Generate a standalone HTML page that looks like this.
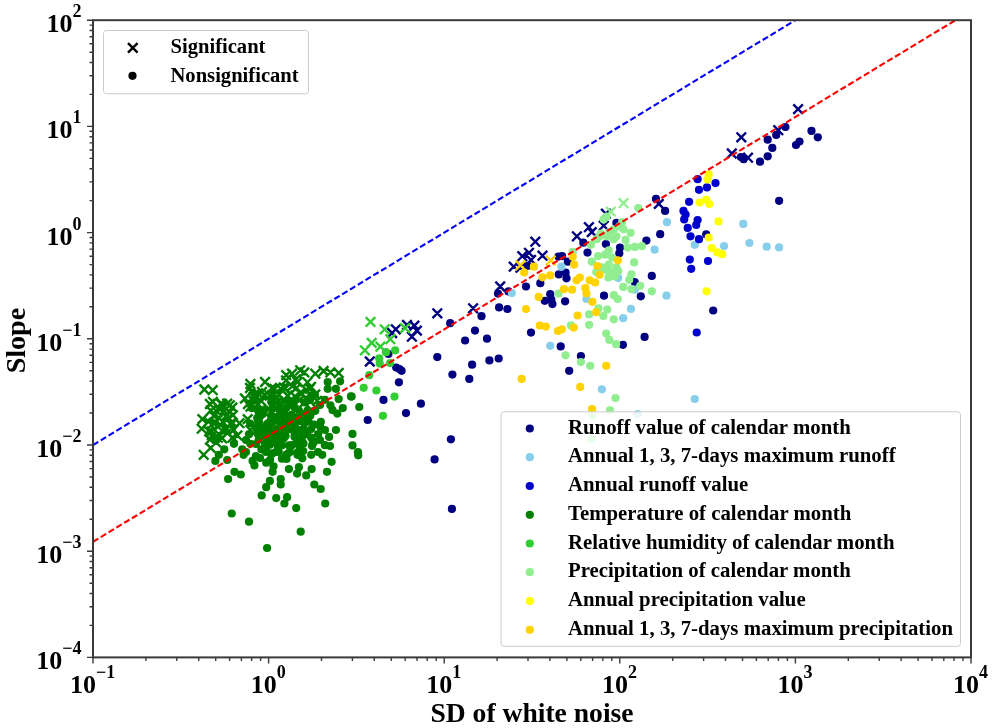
<!DOCTYPE html><html><head><meta charset="utf-8"><style>html,body{margin:0;padding:0;background:#fff;width:992px;height:728px;overflow:hidden}svg{display:block;filter:blur(0.35px)}text{font-family:"Liberation Serif",serif;font-weight:bold;fill:#000}</style></head><body><svg width="992" height="728" viewBox="0 0 992 728"><defs><clipPath id="c"><rect x="93.0" y="20.2" width="878.0" height="637.2"/></clipPath></defs><g clip-path="url(#c)"><path d="M793.3 104.3l9.6 9.6M793.3 113.9l9.6 -9.6M736.5 132.5l9.6 9.6M736.5 142.1l9.6 -9.6M727.0 148.7l9.6 9.6M727.0 158.3l9.6 -9.6M743.2 152.9l9.6 9.6M743.2 162.5l9.6 -9.6M773.5 125.4l9.6 9.6M773.5 135.0l9.6 -9.6M654.0 199.1l9.6 9.6M654.0 208.7l9.6 -9.6M572.1 231.5l9.6 9.6M572.1 241.1l9.6 -9.6M584.1 222.4l9.6 9.6M584.1 232.0l9.6 -9.6M587.0 227.3l9.6 9.6M587.0 236.9l9.6 -9.6M598.9 220.9l9.6 9.6M598.9 230.5l9.6 -9.6M601.1 208.9l9.6 9.6M601.1 218.5l9.6 -9.6M530.5 236.9l9.6 9.6M530.5 246.5l9.6 -9.6M524.2 248.0l9.6 9.6M524.2 257.6l9.6 -9.6M517.5 251.4l9.6 9.6M517.5 261.0l9.6 -9.6M537.7 250.9l9.6 9.6M537.7 260.5l9.6 -9.6M508.9 261.9l9.6 9.6M508.9 271.5l9.6 -9.6M526.2 255.2l9.6 9.6M526.2 264.8l9.6 -9.6M515.6 262.9l9.6 9.6M515.6 272.5l9.6 -9.6M432.5 308.5l9.6 9.6M432.5 318.1l9.6 -9.6M468.3 303.5l9.6 9.6M468.3 313.1l9.6 -9.6M391.0 324.5l9.6 9.6M391.0 334.1l9.6 -9.6M387.3 328.2l9.6 9.6M387.3 337.8l9.6 -9.6M409.6 320.8l9.6 9.6M409.6 330.4l9.6 -9.6M412.1 325.8l9.6 9.6M412.1 335.4l9.6 -9.6M407.1 331.9l9.6 9.6M407.1 341.5l9.6 -9.6M402.2 320.2l9.6 9.6M402.2 329.8l9.6 -9.6M365.0 356.7l9.6 9.6M365.0 366.3l9.6 -9.6M495.4 281.7l9.6 9.6M495.4 291.3l9.6 -9.6" stroke="#000080" stroke-width="2.4" fill="none"/><g fill="#000080"><circle cx="785.4" cy="127.0" r="4.1"/><circle cx="776.2" cy="134.9" r="4.1"/><circle cx="767.7" cy="139.7" r="4.1"/><circle cx="772.3" cy="147.9" r="4.1"/><circle cx="767.7" cy="156.3" r="4.1"/><circle cx="760.0" cy="161.7" r="4.1"/><circle cx="740.9" cy="157.0" r="4.1"/><circle cx="743.7" cy="159.2" r="4.1"/><circle cx="811.5" cy="130.9" r="4.1"/><circle cx="817.8" cy="137.3" r="4.1"/><circle cx="799.5" cy="141.5" r="4.1"/><circle cx="796.0" cy="145.0" r="4.1"/><circle cx="656.0" cy="198.9" r="4.1"/><circle cx="665.1" cy="210.9" r="4.1"/><circle cx="660.2" cy="234.2" r="4.1"/><circle cx="646.4" cy="240.6" r="4.1"/><circle cx="605.9" cy="244.1" r="4.1"/><circle cx="583.3" cy="242.7" r="4.1"/><circle cx="587.5" cy="252.6" r="4.1"/><circle cx="620.0" cy="247.6" r="4.1"/><circle cx="619.3" cy="253.3" r="4.1"/><circle cx="616.4" cy="222.9" r="4.1"/><circle cx="562.1" cy="256.1" r="4.1"/><circle cx="567.8" cy="261.7" r="4.1"/><circle cx="779.1" cy="200.8" r="4.1"/><circle cx="706.2" cy="234.4" r="4.1"/><circle cx="558.4" cy="256.6" r="4.1"/><circle cx="558.8" cy="274.4" r="4.1"/><circle cx="565.6" cy="272.5" r="4.1"/><circle cx="566.5" cy="278.3" r="4.1"/><circle cx="528.0" cy="265.8" r="4.1"/><circle cx="450.2" cy="323.2" r="4.1"/><circle cx="465.1" cy="340.5" r="4.1"/><circle cx="475.0" cy="330.6" r="4.1"/><circle cx="437.3" cy="357.1" r="4.1"/><circle cx="388.4" cy="354.0" r="4.1"/><circle cx="498.0" cy="293.6" r="4.1"/><circle cx="508.5" cy="291.4" r="4.1"/><circle cx="526.0" cy="286.5" r="4.1"/><circle cx="540.3" cy="283.2" r="4.1"/><circle cx="499.1" cy="307.4" r="4.1"/><circle cx="507.4" cy="309.0" r="4.1"/><circle cx="481.5" cy="316.2" r="4.1"/><circle cx="487.0" cy="338.7" r="4.1"/><circle cx="531.0" cy="332.6" r="4.1"/><circle cx="550.2" cy="294.2" r="4.1"/><circle cx="544.7" cy="300.8" r="4.1"/><circle cx="551.3" cy="299.7" r="4.1"/><circle cx="552.4" cy="304.1" r="4.1"/><circle cx="565.1" cy="301.3" r="4.1"/><circle cx="560.7" cy="346.4" r="4.1"/><circle cx="604.0" cy="295.7" r="4.1"/><circle cx="640.8" cy="296.3" r="4.1"/><circle cx="651.8" cy="275.9" r="4.1"/><circle cx="634.7" cy="282.0" r="4.1"/><circle cx="644.6" cy="336.9" r="4.1"/><circle cx="713.2" cy="310.5" r="4.1"/><circle cx="622.9" cy="344.8" r="4.1"/><circle cx="580.9" cy="356.0" r="4.1"/><circle cx="569.2" cy="370.8" r="4.1"/><circle cx="489.4" cy="360.4" r="4.1"/><circle cx="498.7" cy="358.5" r="4.1"/><circle cx="472.1" cy="364.7" r="4.1"/><circle cx="452.4" cy="374.6" r="4.1"/><circle cx="469.3" cy="378.9" r="4.1"/><circle cx="396.2" cy="367.5" r="4.1"/><circle cx="401.6" cy="370.8" r="4.1"/><circle cx="399.5" cy="369.1" r="4.1"/><circle cx="398.9" cy="382.3" r="4.1"/><circle cx="383.5" cy="399.9" r="4.1"/><circle cx="420.9" cy="403.7" r="4.1"/><circle cx="406.0" cy="413.1" r="4.1"/><circle cx="367.7" cy="420.0" r="4.1"/><circle cx="450.9" cy="439.3" r="4.1"/><circle cx="434.6" cy="459.4" r="4.1"/><circle cx="451.9" cy="508.9" r="4.1"/></g><g fill="#87ceeb"><circle cx="667.0" cy="222.2" r="4.1"/><circle cx="654.6" cy="249.7" r="4.1"/><circle cx="694.8" cy="244.8" r="4.1"/><circle cx="561.4" cy="266.7" r="4.1"/><circle cx="743.3" cy="223.9" r="4.1"/><circle cx="749.4" cy="243.0" r="4.1"/><circle cx="766.7" cy="246.7" r="4.1"/><circle cx="779.1" cy="247.4" r="4.1"/><circle cx="724.1" cy="246.1" r="4.1"/><circle cx="511.8" cy="293.1" r="4.1"/><circle cx="550.2" cy="345.8" r="4.1"/><circle cx="586.4" cy="299.0" r="4.1"/><circle cx="618.2" cy="278.1" r="4.1"/><circle cx="634.7" cy="289.7" r="4.1"/><circle cx="630.9" cy="308.9" r="4.1"/><circle cx="623.2" cy="318.2" r="4.1"/><circle cx="666.5" cy="295.7" r="4.1"/><circle cx="601.9" cy="389.3" r="4.1"/><circle cx="637.8" cy="414.0" r="4.1"/><circle cx="694.8" cy="399.0" r="4.1"/></g><g fill="#0000cd"><circle cx="715.5" cy="183.1" r="4.1"/><circle cx="707.0" cy="187.4" r="4.1"/><circle cx="697.6" cy="179.2" r="4.1"/><circle cx="699.0" cy="189.8" r="4.1"/><circle cx="689.1" cy="201.8" r="4.1"/><circle cx="683.5" cy="210.9" r="4.1"/><circle cx="685.6" cy="214.5" r="4.1"/><circle cx="684.2" cy="219.4" r="4.1"/><circle cx="697.6" cy="220.1" r="4.1"/><circle cx="696.2" cy="225.0" r="4.1"/><circle cx="687.7" cy="227.9" r="4.1"/><circle cx="690.5" cy="236.3" r="4.1"/><circle cx="699.0" cy="239.2" r="4.1"/><circle cx="689.8" cy="259.6" r="4.1"/><circle cx="691.2" cy="268.8" r="4.1"/><circle cx="708.0" cy="261.0" r="4.1"/><circle cx="696.7" cy="332.5" r="4.1"/></g><path d="M281.3 375.6l9.6 9.6M281.3 385.2l9.6 -9.6M291.0 374.7l9.6 9.6M291.0 384.3l9.6 -9.6M302.6 377.5l9.6 9.6M302.6 387.1l9.6 -9.6M269.7 384.2l9.6 9.6M269.7 393.8l9.6 -9.6M280.4 383.7l9.6 9.6M280.4 393.3l9.6 -9.6M287.5 381.3l9.6 9.6M287.5 390.9l9.6 -9.6M291.6 383.1l9.6 9.6M291.6 392.7l9.6 -9.6M301.5 385.0l9.6 9.6M301.5 394.6l9.6 -9.6M306.2 382.2l9.6 9.6M306.2 391.8l9.6 -9.6M248.7 392.2l9.6 9.6M248.7 401.8l9.6 -9.6M253.3 388.5l9.6 9.6M253.3 398.1l9.6 -9.6M259.6 390.2l9.6 9.6M259.6 399.8l9.6 -9.6M269.0 390.0l9.6 9.6M269.0 399.6l9.6 -9.6M274.1 389.9l9.6 9.6M274.1 399.5l9.6 -9.6M282.7 390.9l9.6 9.6M282.7 400.5l9.6 -9.6M290.2 391.6l9.6 9.6M290.2 401.2l9.6 -9.6M296.9 388.7l9.6 9.6M296.9 398.3l9.6 -9.6M304.6 389.4l9.6 9.6M304.6 399.0l9.6 -9.6M310.5 389.7l9.6 9.6M310.5 399.3l9.6 -9.6M248.9 396.4l9.6 9.6M248.9 406.0l9.6 -9.6M256.2 396.0l9.6 9.6M256.2 405.6l9.6 -9.6M273.4 396.7l9.6 9.6M273.4 406.3l9.6 -9.6M280.2 397.0l9.6 9.6M280.2 406.6l9.6 -9.6M294.5 395.6l9.6 9.6M294.5 405.2l9.6 -9.6M305.6 396.7l9.6 9.6M305.6 406.3l9.6 -9.6M312.3 396.0l9.6 9.6M312.3 405.6l9.6 -9.6M208.1 397.0l9.6 9.6M208.1 406.6l9.6 -9.6M216.0 398.8l9.6 9.6M216.0 408.4l9.6 -9.6M222.4 398.9l9.6 9.6M222.4 408.5l9.6 -9.6M206.0 405.7l9.6 9.6M206.0 415.3l9.6 -9.6M214.0 403.2l9.6 9.6M214.0 412.8l9.6 -9.6M219.4 406.0l9.6 9.6M219.4 415.6l9.6 -9.6M227.6 402.7l9.6 9.6M227.6 412.3l9.6 -9.6M209.2 411.2l9.6 9.6M209.2 420.8l9.6 -9.6M214.0 413.1l9.6 9.6M214.0 422.7l9.6 -9.6M223.9 413.1l9.6 9.6M223.9 422.7l9.6 -9.6M228.1 410.3l9.6 9.6M228.1 419.9l9.6 -9.6M203.6 416.8l9.6 9.6M203.6 426.4l9.6 -9.6M210.4 417.0l9.6 9.6M210.4 426.6l9.6 -9.6M218.4 417.4l9.6 9.6M218.4 427.0l9.6 -9.6M227.2 417.4l9.6 9.6M227.2 427.0l9.6 -9.6M207.0 426.6l9.6 9.6M207.0 436.2l9.6 -9.6M217.2 425.9l9.6 9.6M217.2 435.5l9.6 -9.6M221.8 424.2l9.6 9.6M221.8 433.8l9.6 -9.6M228.9 425.0l9.6 9.6M228.9 434.6l9.6 -9.6M207.1 430.8l9.6 9.6M207.1 440.4l9.6 -9.6M213.1 432.8l9.6 9.6M213.1 442.4l9.6 -9.6M217.4 433.5l9.6 9.6M217.4 443.1l9.6 -9.6M227.8 432.7l9.6 9.6M227.8 442.3l9.6 -9.6M199.6 384.7l9.6 9.6M199.6 394.3l9.6 -9.6M207.9 385.4l9.6 9.6M207.9 395.0l9.6 -9.6M245.6 379.2l9.6 9.6M245.6 388.8l9.6 -9.6M205.1 399.2l9.6 9.6M205.1 408.8l9.6 -9.6M197.6 414.3l9.6 9.6M197.6 423.9l9.6 -9.6M196.9 423.9l9.6 9.6M196.9 433.5l9.6 -9.6M205.1 434.9l9.6 9.6M205.1 444.5l9.6 -9.6M198.9 450.0l9.6 9.6M198.9 459.6l9.6 -9.6M205.8 443.1l9.6 9.6M205.8 452.7l9.6 -9.6M232.6 430.7l9.6 9.6M232.6 440.3l9.6 -9.6M234.7 418.4l9.6 9.6M234.7 428.0l9.6 -9.6M225.0 400.5l9.6 9.6M225.0 410.1l9.6 -9.6M218.2 400.5l9.6 9.6M218.2 410.1l9.6 -9.6M212.7 407.4l9.6 9.6M212.7 417.0l9.6 -9.6M220.9 411.5l9.6 9.6M220.9 421.1l9.6 -9.6M226.4 419.8l9.6 9.6M226.4 429.4l9.6 -9.6M215.4 419.8l9.6 9.6M215.4 429.4l9.6 -9.6M208.6 418.4l9.6 9.6M208.6 428.0l9.6 -9.6M204.4 426.6l9.6 9.6M204.4 436.2l9.6 -9.6M214.0 429.4l9.6 9.6M214.0 439.0l9.6 -9.6M222.3 428.0l9.6 9.6M222.3 437.6l9.6 -9.6M211.3 437.6l9.6 9.6M211.3 447.2l9.6 -9.6M240.1 393.7l9.6 9.6M240.1 403.3l9.6 -9.6M249.8 389.5l9.6 9.6M249.8 399.1l9.6 -9.6M256.6 396.4l9.6 9.6M256.6 406.0l9.6 -9.6M264.9 390.9l9.6 9.6M264.9 400.5l9.6 -9.6M275.9 384.0l9.6 9.6M275.9 393.6l9.6 -9.6M281.4 370.3l9.6 9.6M281.4 379.9l9.6 -9.6M245.6 401.9l9.6 9.6M245.6 411.5l9.6 -9.6M256.6 406.0l9.6 9.6M256.6 415.6l9.6 -9.6M267.6 400.5l9.6 9.6M267.6 410.1l9.6 -9.6M278.6 395.0l9.6 9.6M278.6 404.6l9.6 -9.6M242.9 414.3l9.6 9.6M242.9 423.9l9.6 -9.6M253.9 417.0l9.6 9.6M253.9 426.6l9.6 -9.6M264.9 412.9l9.6 9.6M264.9 422.5l9.6 -9.6M275.9 410.2l9.6 9.6M275.9 419.8l9.6 -9.6M245.6 425.2l9.6 9.6M245.6 434.8l9.6 -9.6M256.6 426.6l9.6 9.6M256.6 436.2l9.6 -9.6M270.4 422.5l9.6 9.6M270.4 432.1l9.6 -9.6M281.4 419.8l9.6 9.6M281.4 429.4l9.6 -9.6M287.2 368.9l9.6 9.6M287.2 378.5l9.6 -9.6M295.4 365.5l9.6 9.6M295.4 375.1l9.6 -9.6M299.5 367.6l9.6 9.6M299.5 377.2l9.6 -9.6M310.5 368.9l9.6 9.6M310.5 378.5l9.6 -9.6M318.8 366.2l9.6 9.6M318.8 375.8l9.6 -9.6M325.6 367.6l9.6 9.6M325.6 377.2l9.6 -9.6M333.9 368.2l9.6 9.6M333.9 377.8l9.6 -9.6M278.9 382.7l9.6 9.6M278.9 392.3l9.6 -9.6M305.0 384.0l9.6 9.6M305.0 393.6l9.6 -9.6M292.7 377.2l9.6 9.6M292.7 386.8l9.6 -9.6M269.3 389.5l9.6 9.6M269.3 399.1l9.6 -9.6M283.1 390.9l9.6 9.6M283.1 400.5l9.6 -9.6M295.4 388.2l9.6 9.6M295.4 397.8l9.6 -9.6M273.4 400.5l9.6 9.6M273.4 410.1l9.6 -9.6M288.6 399.2l9.6 9.6M288.6 408.8l9.6 -9.6M299.5 397.8l9.6 9.6M299.5 407.4l9.6 -9.6M270.7 411.5l9.6 9.6M270.7 421.1l9.6 -9.6M284.4 410.1l9.6 9.6M284.4 419.7l9.6 -9.6M296.8 408.8l9.6 9.6M296.8 418.4l9.6 -9.6M276.2 419.8l9.6 9.6M276.2 429.4l9.6 -9.6M245.2 383.2l9.6 9.6M245.2 392.8l9.6 -9.6M250.2 391.2l9.6 9.6M250.2 400.8l9.6 -9.6M257.2 387.2l9.6 9.6M257.2 396.8l9.6 -9.6M243.2 399.2l9.6 9.6M243.2 408.8l9.6 -9.6M253.2 399.2l9.6 9.6M253.2 408.8l9.6 -9.6M260.2 377.2l9.6 9.6M260.2 386.8l9.6 -9.6M267.2 383.2l9.6 9.6M267.2 392.8l9.6 -9.6M225.2 407.2l9.6 9.6M225.2 416.8l9.6 -9.6M217.2 399.2l9.6 9.6M217.2 408.8l9.6 -9.6" stroke="#008000" stroke-width="2.4" fill="none"/><g fill="#008000"><circle cx="249.9" cy="403.7" r="4.1"/><circle cx="271.4" cy="402.3" r="4.1"/><circle cx="289.5" cy="403.1" r="4.1"/><circle cx="304.9" cy="402.5" r="4.1"/><circle cx="251.6" cy="408.1" r="4.1"/><circle cx="258.2" cy="410.8" r="4.1"/><circle cx="265.2" cy="409.3" r="4.1"/><circle cx="272.4" cy="408.7" r="4.1"/><circle cx="281.5" cy="411.0" r="4.1"/><circle cx="286.5" cy="407.8" r="4.1"/><circle cx="294.9" cy="407.8" r="4.1"/><circle cx="299.0" cy="410.6" r="4.1"/><circle cx="307.7" cy="410.3" r="4.1"/><circle cx="314.6" cy="410.5" r="4.1"/><circle cx="257.3" cy="417.9" r="4.1"/><circle cx="262.4" cy="414.2" r="4.1"/><circle cx="271.2" cy="415.6" r="4.1"/><circle cx="278.1" cy="416.5" r="4.1"/><circle cx="284.8" cy="414.6" r="4.1"/><circle cx="291.6" cy="414.9" r="4.1"/><circle cx="297.1" cy="417.4" r="4.1"/><circle cx="305.8" cy="414.7" r="4.1"/><circle cx="310.4" cy="415.6" r="4.1"/><circle cx="250.1" cy="423.5" r="4.1"/><circle cx="259.0" cy="421.9" r="4.1"/><circle cx="267.1" cy="424.1" r="4.1"/><circle cx="272.8" cy="421.7" r="4.1"/><circle cx="279.9" cy="421.4" r="4.1"/><circle cx="285.5" cy="422.7" r="4.1"/><circle cx="292.4" cy="422.8" r="4.1"/><circle cx="301.0" cy="421.2" r="4.1"/><circle cx="308.5" cy="421.3" r="4.1"/><circle cx="256.5" cy="428.6" r="4.1"/><circle cx="264.1" cy="429.1" r="4.1"/><circle cx="270.8" cy="428.6" r="4.1"/><circle cx="276.5" cy="431.7" r="4.1"/><circle cx="282.3" cy="429.1" r="4.1"/><circle cx="290.5" cy="429.3" r="4.1"/><circle cx="295.6" cy="428.7" r="4.1"/><circle cx="303.1" cy="431.7" r="4.1"/><circle cx="260.3" cy="436.0" r="4.1"/><circle cx="266.6" cy="438.9" r="4.1"/><circle cx="273.3" cy="437.7" r="4.1"/><circle cx="279.3" cy="435.0" r="4.1"/><circle cx="285.1" cy="435.6" r="4.1"/><circle cx="294.5" cy="436.7" r="4.1"/><circle cx="351.6" cy="396.6" r="4.1"/><circle cx="359.3" cy="407.0" r="4.1"/><circle cx="352.5" cy="433.9" r="4.1"/><circle cx="352.5" cy="445.4" r="4.1"/><circle cx="357.9" cy="452.0" r="4.1"/><circle cx="358.2" cy="455.3" r="4.1"/><circle cx="249.1" cy="434.2" r="4.1"/><circle cx="234.0" cy="443.8" r="4.1"/><circle cx="242.2" cy="449.3" r="4.1"/><circle cx="250.4" cy="443.8" r="4.1"/><circle cx="243.6" cy="454.8" r="4.1"/><circle cx="224.3" cy="449.3" r="4.1"/><circle cx="218.8" cy="454.8" r="4.1"/><circle cx="258.7" cy="439.7" r="4.1"/><circle cx="266.9" cy="436.9" r="4.1"/><circle cx="275.2" cy="439.7" r="4.1"/><circle cx="282.0" cy="445.2" r="4.1"/><circle cx="261.4" cy="449.3" r="4.1"/><circle cx="272.4" cy="453.4" r="4.1"/><circle cx="286.2" cy="454.8" r="4.1"/><circle cx="255.9" cy="456.2" r="4.1"/><circle cx="327.7" cy="382.0" r="4.1"/><circle cx="340.1" cy="381.3" r="4.1"/><circle cx="327.7" cy="388.8" r="4.1"/><circle cx="335.9" cy="388.8" r="4.1"/><circle cx="351.0" cy="396.4" r="4.1"/><circle cx="338.7" cy="399.1" r="4.1"/><circle cx="324.9" cy="399.8" r="4.1"/><circle cx="330.4" cy="405.3" r="4.1"/><circle cx="342.8" cy="408.1" r="4.1"/><circle cx="332.5" cy="410.1" r="4.1"/><circle cx="337.3" cy="413.6" r="4.1"/><circle cx="315.3" cy="410.8" r="4.1"/><circle cx="320.8" cy="421.8" r="4.1"/><circle cx="314.0" cy="424.6" r="4.1"/><circle cx="304.3" cy="423.2" r="4.1"/><circle cx="294.7" cy="424.6" r="4.1"/><circle cx="335.9" cy="430.0" r="4.1"/><circle cx="324.9" cy="430.0" r="4.1"/><circle cx="294.7" cy="431.4" r="4.1"/><circle cx="307.1" cy="434.2" r="4.1"/><circle cx="318.1" cy="434.2" r="4.1"/><circle cx="329.1" cy="436.9" r="4.1"/><circle cx="301.6" cy="439.7" r="4.1"/><circle cx="312.6" cy="443.8" r="4.1"/><circle cx="324.9" cy="445.2" r="4.1"/><circle cx="292.0" cy="445.2" r="4.1"/><circle cx="283.7" cy="438.3" r="4.1"/><circle cx="278.2" cy="447.9" r="4.1"/><circle cx="297.5" cy="454.8" r="4.1"/><circle cx="311.2" cy="454.8" r="4.1"/><circle cx="322.2" cy="454.8" r="4.1"/><circle cx="280.0" cy="410.0" r="4.1"/><circle cx="290.0" cy="420.0" r="4.1"/><circle cx="300.0" cy="430.0" r="4.1"/><circle cx="285.0" cy="430.0" r="4.1"/><circle cx="270.0" cy="430.0" r="4.1"/><circle cx="295.0" cy="400.0" r="4.1"/><circle cx="305.0" cy="415.0" r="4.1"/><circle cx="310.0" cy="400.0" r="4.1"/><circle cx="315.0" cy="395.0" r="4.1"/><circle cx="320.0" cy="405.0" r="4.1"/><circle cx="215.4" cy="460.9" r="4.1"/><circle cx="227.2" cy="460.0" r="4.1"/><circle cx="234.5" cy="471.8" r="4.1"/><circle cx="240.8" cy="474.5" r="4.1"/><circle cx="228.1" cy="479.0" r="4.1"/><circle cx="252.6" cy="460.9" r="4.1"/><circle cx="254.4" cy="465.4" r="4.1"/><circle cx="266.2" cy="462.7" r="4.1"/><circle cx="272.6" cy="471.8" r="4.1"/><circle cx="273.5" cy="466.3" r="4.1"/><circle cx="269.9" cy="480.9" r="4.1"/><circle cx="280.7" cy="479.0" r="4.1"/><circle cx="280.7" cy="484.5" r="4.1"/><circle cx="266.2" cy="487.2" r="4.1"/><circle cx="261.7" cy="495.4" r="4.1"/><circle cx="276.2" cy="498.1" r="4.1"/><circle cx="287.1" cy="497.2" r="4.1"/><circle cx="284.4" cy="503.5" r="4.1"/><circle cx="296.2" cy="508.1" r="4.1"/><circle cx="325.2" cy="503.5" r="4.1"/><circle cx="288.9" cy="469.1" r="4.1"/><circle cx="297.1" cy="473.6" r="4.1"/><circle cx="298.9" cy="467.2" r="4.1"/><circle cx="306.2" cy="475.4" r="4.1"/><circle cx="311.6" cy="469.1" r="4.1"/><circle cx="331.6" cy="461.8" r="4.1"/><circle cx="327.0" cy="471.8" r="4.1"/><circle cx="314.3" cy="484.5" r="4.1"/><circle cx="320.7" cy="489.0" r="4.1"/><circle cx="231.7" cy="513.5" r="4.1"/><circle cx="249.0" cy="521.7" r="4.1"/><circle cx="300.7" cy="531.7" r="4.1"/><circle cx="267.1" cy="548.0" r="4.1"/><circle cx="246.0" cy="440.0" r="4.1"/><circle cx="256.0" cy="444.0" r="4.1"/><circle cx="266.0" cy="450.0" r="4.1"/><circle cx="276.0" cy="452.0" r="4.1"/><circle cx="290.0" cy="452.0" r="4.1"/><circle cx="300.0" cy="448.0" r="4.1"/><circle cx="312.0" cy="446.0" r="4.1"/><circle cx="320.0" cy="440.0" r="4.1"/><circle cx="330.0" cy="446.0" r="4.1"/><circle cx="318.0" cy="452.0" r="4.1"/><circle cx="260.0" cy="458.0" r="4.1"/><circle cx="246.0" cy="452.0" r="4.1"/><circle cx="258.1" cy="422.2" r="4.1"/><circle cx="281.7" cy="421.6" r="4.1"/><circle cx="288.7" cy="421.6" r="4.1"/><circle cx="262.9" cy="429.1" r="4.1"/><circle cx="271.3" cy="427.1" r="4.1"/><circle cx="282.3" cy="428.0" r="4.1"/><circle cx="289.8" cy="428.6" r="4.1"/><circle cx="293.7" cy="427.6" r="4.1"/><circle cx="303.7" cy="429.4" r="4.1"/><circle cx="311.2" cy="429.0" r="4.1"/><circle cx="320.2" cy="426.6" r="4.1"/><circle cx="257.8" cy="434.0" r="4.1"/><circle cx="265.6" cy="434.4" r="4.1"/><circle cx="269.5" cy="434.5" r="4.1"/><circle cx="281.3" cy="438.4" r="4.1"/><circle cx="285.5" cy="436.0" r="4.1"/><circle cx="296.0" cy="437.5" r="4.1"/><circle cx="302.4" cy="436.0" r="4.1"/><circle cx="311.2" cy="437.7" r="4.1"/><circle cx="265.0" cy="444.0" r="4.1"/><circle cx="270.0" cy="444.7" r="4.1"/><circle cx="277.9" cy="445.4" r="4.1"/><circle cx="289.0" cy="445.4" r="4.1"/><circle cx="296.6" cy="443.3" r="4.1"/><circle cx="303.5" cy="443.5" r="4.1"/><circle cx="314.0" cy="441.9" r="4.1"/><circle cx="266.0" cy="452.0" r="4.1"/><circle cx="271.4" cy="453.9" r="4.1"/><circle cx="278.7" cy="451.8" r="4.1"/><circle cx="288.2" cy="453.3" r="4.1"/><circle cx="297.3" cy="452.7" r="4.1"/><circle cx="303.2" cy="451.1" r="4.1"/><circle cx="270.1" cy="459.8" r="4.1"/><circle cx="281.9" cy="458.7" r="4.1"/><circle cx="286.5" cy="459.0" r="4.1"/><circle cx="302.3" cy="458.3" r="4.1"/></g><path d="M365.7 317.1l9.6 9.6M365.7 326.7l9.6 -9.6M379.9 324.5l9.6 9.6M379.9 334.1l9.6 -9.6M400.3 323.3l9.6 9.6M400.3 332.9l9.6 -9.6M385.5 334.4l9.6 9.6M385.5 344.0l9.6 -9.6M366.9 338.1l9.6 9.6M366.9 347.7l9.6 -9.6M375.6 341.8l9.6 9.6M375.6 351.4l9.6 -9.6M360.1 345.5l9.6 9.6M360.1 355.1l9.6 -9.6" stroke="#32cd32" stroke-width="2.4" fill="none"/><g fill="#32cd32"><circle cx="395.2" cy="350.3" r="4.1"/><circle cx="386.0" cy="352.2" r="4.1"/><circle cx="379.2" cy="358.4" r="4.1"/><circle cx="379.7" cy="363.6" r="4.1"/><circle cx="390.1" cy="363.1" r="4.1"/><circle cx="369.2" cy="375.2" r="4.1"/><circle cx="363.7" cy="387.8" r="4.1"/><circle cx="376.4" cy="390.5" r="4.1"/><circle cx="394.5" cy="396.6" r="4.1"/><circle cx="383.0" cy="415.8" r="4.1"/></g><path d="M618.7 198.4l9.6 9.6M618.7 208.0l9.6 -9.6M606.0 206.8l9.6 9.6M606.0 216.4l9.6 -9.6" stroke="#90ee90" stroke-width="2.4" fill="none"/><g fill="#90ee90"><circle cx="638.3" cy="208.1" r="4.1"/><circle cx="603.7" cy="219.4" r="4.1"/><circle cx="622.1" cy="222.2" r="4.1"/><circle cx="613.6" cy="229.3" r="4.1"/><circle cx="630.6" cy="232.8" r="4.1"/><circle cx="625.6" cy="239.9" r="4.1"/><circle cx="613.6" cy="239.2" r="4.1"/><circle cx="599.5" cy="236.3" r="4.1"/><circle cx="591.0" cy="244.8" r="4.1"/><circle cx="627.7" cy="247.6" r="4.1"/><circle cx="634.8" cy="246.9" r="4.1"/><circle cx="641.9" cy="246.2" r="4.1"/><circle cx="608.7" cy="250.4" r="4.1"/><circle cx="598.1" cy="256.1" r="4.1"/><circle cx="605.2" cy="254.7" r="4.1"/><circle cx="612.2" cy="257.5" r="4.1"/><circle cx="591.8" cy="261.7" r="4.1"/><circle cx="634.1" cy="262.4" r="4.1"/><circle cx="572.7" cy="251.9" r="4.1"/><circle cx="608.7" cy="264.6" r="4.1"/><circle cx="602.3" cy="267.4" r="4.1"/><circle cx="616.4" cy="267.4" r="4.1"/><circle cx="558.5" cy="293.6" r="4.1"/><circle cx="606.2" cy="269.9" r="4.1"/><circle cx="611.6" cy="272.1" r="4.1"/><circle cx="618.2" cy="271.0" r="4.1"/><circle cx="608.4" cy="277.6" r="4.1"/><circle cx="615.0" cy="276.5" r="4.1"/><circle cx="596.3" cy="272.1" r="4.1"/><circle cx="631.4" cy="274.3" r="4.1"/><circle cx="629.2" cy="279.8" r="4.1"/><circle cx="623.2" cy="286.9" r="4.1"/><circle cx="631.4" cy="289.1" r="4.1"/><circle cx="640.2" cy="285.8" r="4.1"/><circle cx="651.8" cy="291.3" r="4.1"/><circle cx="613.8" cy="295.2" r="4.1"/><circle cx="617.7" cy="299.0" r="4.1"/><circle cx="607.3" cy="309.5" r="4.1"/><circle cx="598.5" cy="308.4" r="4.1"/><circle cx="589.1" cy="314.4" r="4.1"/><circle cx="603.4" cy="316.0" r="4.1"/><circle cx="613.8" cy="319.3" r="4.1"/><circle cx="589.1" cy="324.8" r="4.1"/><circle cx="571.0" cy="325.4" r="4.1"/><circle cx="606.2" cy="333.6" r="4.1"/><circle cx="609.3" cy="339.9" r="4.1"/><circle cx="616.1" cy="344.2" r="4.1"/><circle cx="565.5" cy="355.3" r="4.1"/><circle cx="580.9" cy="362.1" r="4.1"/><circle cx="590.2" cy="365.8" r="4.1"/><circle cx="615.5" cy="398.0" r="4.1"/><circle cx="610.0" cy="410.3" r="4.1"/><circle cx="592.6" cy="415.3" r="4.1"/><circle cx="591.6" cy="438.7" r="4.1"/><circle cx="606.6" cy="216.6" r="4.1"/><circle cx="619.3" cy="226.5" r="4.1"/><circle cx="609.4" cy="232.1" r="4.1"/><circle cx="616.4" cy="236.3" r="4.1"/><circle cx="623.5" cy="229.3" r="4.1"/><circle cx="606.6" cy="236.3" r="4.1"/><circle cx="600.9" cy="233.5" r="4.1"/><circle cx="596.7" cy="239.2" r="4.1"/></g><g fill="#ffff00"><circle cx="708.7" cy="174.4" r="4.1"/><circle cx="707.7" cy="179.5" r="4.1"/><circle cx="699.7" cy="202.5" r="4.1"/><circle cx="718.5" cy="221.4" r="4.1"/><circle cx="706.2" cy="199.8" r="4.1"/><circle cx="709.3" cy="204.1" r="4.1"/><circle cx="708.7" cy="237.5" r="4.1"/><circle cx="711.7" cy="248.0" r="4.1"/><circle cx="717.3" cy="252.3" r="4.1"/><circle cx="722.2" cy="254.2" r="4.1"/><circle cx="706.6" cy="291.3" r="4.1"/></g><path d="M515.6 260.5l9.6 9.6M515.6 270.1l9.6 -9.6M545.9 255.7l9.6 9.6M545.9 265.3l9.6 -9.6" stroke="#ffd200" stroke-width="2.4" fill="none"/><g fill="#ffd200"><circle cx="572.7" cy="256.8" r="4.1"/><circle cx="574.1" cy="264.6" r="4.1"/><circle cx="597.4" cy="266.0" r="4.1"/><circle cx="617.9" cy="260.3" r="4.1"/><circle cx="533.8" cy="266.7" r="4.1"/><circle cx="524.2" cy="272.5" r="4.1"/><circle cx="542.5" cy="277.3" r="4.1"/><circle cx="550.2" cy="275.4" r="4.1"/><circle cx="538.7" cy="296.9" r="4.1"/><circle cx="526.0" cy="309.0" r="4.1"/><circle cx="539.8" cy="325.5" r="4.1"/><circle cx="545.8" cy="326.6" r="4.1"/><circle cx="557.9" cy="331.0" r="4.1"/><circle cx="561.8" cy="329.3" r="4.1"/><circle cx="564.0" cy="289.2" r="4.1"/><circle cx="599.6" cy="274.8" r="4.1"/><circle cx="576.5" cy="280.3" r="4.1"/><circle cx="579.8" cy="277.6" r="4.1"/><circle cx="589.7" cy="280.3" r="4.1"/><circle cx="595.2" cy="282.5" r="4.1"/><circle cx="585.3" cy="288.0" r="4.1"/><circle cx="586.4" cy="293.5" r="4.1"/><circle cx="572.1" cy="289.7" r="4.1"/><circle cx="592.4" cy="301.8" r="4.1"/><circle cx="596.3" cy="312.2" r="4.1"/><circle cx="577.6" cy="315.5" r="4.1"/><circle cx="573.7" cy="327.6" r="4.1"/><circle cx="606.2" cy="365.8" r="4.1"/><circle cx="580.3" cy="386.9" r="4.1"/><circle cx="592.0" cy="409.1" r="4.1"/><circle cx="521.6" cy="378.9" r="4.1"/></g><line x1="93.0" y1="445.0" x2="971.0" y2="-86.0" stroke="#0000ff" stroke-width="2.1" stroke-dasharray="6.2,2.9"/><line x1="93.0" y1="541.8" x2="971.0" y2="10.8" stroke="#ff0000" stroke-width="2.1" stroke-dasharray="6.2,2.9"/></g><rect x="93.0" y="20.2" width="878.0" height="637.2" fill="none" stroke="#3a3a3a" stroke-width="2"/><path d="M93.0 657.4v6.0M145.9 657.4v3.5M176.8 657.4v3.5M198.7 657.4v3.5M215.7 657.4v3.5M229.6 657.4v3.5M241.4 657.4v3.5M251.6 657.4v3.5M260.6 657.4v3.5M268.6 657.4v6.0M321.5 657.4v3.5M352.4 657.4v3.5M374.3 657.4v3.5M391.3 657.4v3.5M405.2 657.4v3.5M417.0 657.4v3.5M427.2 657.4v3.5M436.2 657.4v3.5M444.2 657.4v6.0M497.1 657.4v3.5M528.0 657.4v3.5M549.9 657.4v3.5M566.9 657.4v3.5M580.8 657.4v3.5M592.6 657.4v3.5M602.8 657.4v3.5M611.8 657.4v3.5M619.8 657.4v6.0M672.7 657.4v3.5M703.6 657.4v3.5M725.5 657.4v3.5M742.5 657.4v3.5M756.4 657.4v3.5M768.2 657.4v3.5M778.4 657.4v3.5M787.4 657.4v3.5M795.4 657.4v6.0M848.3 657.4v3.5M879.2 657.4v3.5M901.1 657.4v3.5M918.1 657.4v3.5M932.0 657.4v3.5M943.8 657.4v3.5M954.0 657.4v3.5M963.0 657.4v3.5M971.0 657.4v6M93.0 657.4h-6.0M93.0 625.4h-3.5M93.0 606.7h-3.5M93.0 593.5h-3.5M93.0 583.2h-3.5M93.0 574.8h-3.5M93.0 567.7h-3.5M93.0 561.5h-3.5M93.0 556.1h-3.5M93.0 551.2h-6.0M93.0 519.2h-3.5M93.0 500.5h-3.5M93.0 487.3h-3.5M93.0 477.0h-3.5M93.0 468.6h-3.5M93.0 461.5h-3.5M93.0 455.3h-3.5M93.0 449.9h-3.5M93.0 445.0h-6.0M93.0 413.0h-3.5M93.0 394.3h-3.5M93.0 381.1h-3.5M93.0 370.8h-3.5M93.0 362.4h-3.5M93.0 355.3h-3.5M93.0 349.1h-3.5M93.0 343.7h-3.5M93.0 338.8h-6.0M93.0 306.8h-3.5M93.0 288.1h-3.5M93.0 274.9h-3.5M93.0 264.6h-3.5M93.0 256.2h-3.5M93.0 249.1h-3.5M93.0 242.9h-3.5M93.0 237.5h-3.5M93.0 232.6h-6.0M93.0 200.6h-3.5M93.0 181.9h-3.5M93.0 168.7h-3.5M93.0 158.4h-3.5M93.0 150.0h-3.5M93.0 142.9h-3.5M93.0 136.7h-3.5M93.0 131.3h-3.5M93.0 126.4h-6.0M93.0 94.4h-3.5M93.0 75.7h-3.5M93.0 62.5h-3.5M93.0 52.2h-3.5M93.0 43.8h-3.5M93.0 36.7h-3.5M93.0 30.5h-3.5M93.0 25.1h-3.5M93.0 20.2h-6" stroke="#3a3a3a" stroke-width="1.4" fill="none"/><text x="92.6" y="692.5" font-size="26" text-anchor="middle">10<tspan dy="-15" font-size="18">−1</tspan></text><text x="268.2" y="692.5" font-size="26" text-anchor="middle">10<tspan dy="-15" font-size="18">0</tspan></text><text x="443.8" y="692.5" font-size="26" text-anchor="middle">10<tspan dy="-15" font-size="18">1</tspan></text><text x="619.4" y="692.5" font-size="26" text-anchor="middle">10<tspan dy="-15" font-size="18">2</tspan></text><text x="795.0" y="692.5" font-size="26" text-anchor="middle">10<tspan dy="-15" font-size="18">3</tspan></text><text x="970.6" y="692.5" font-size="26" text-anchor="middle">10<tspan dy="-15" font-size="18">4</tspan></text><text x="81.6" y="669.4" font-size="26" text-anchor="end">10<tspan dy="-15" font-size="18">−4</tspan></text><text x="81.6" y="563.2" font-size="26" text-anchor="end">10<tspan dy="-15" font-size="18">−3</tspan></text><text x="81.6" y="457.0" font-size="26" text-anchor="end">10<tspan dy="-15" font-size="18">−2</tspan></text><text x="81.6" y="350.8" font-size="26" text-anchor="end">10<tspan dy="-15" font-size="18">−1</tspan></text><text x="81.6" y="244.6" font-size="26" text-anchor="end">10<tspan dy="-15" font-size="18">0</tspan></text><text x="81.6" y="138.4" font-size="26" text-anchor="end">10<tspan dy="-15" font-size="18">1</tspan></text><text x="81.6" y="32.2" font-size="26" text-anchor="end">10<tspan dy="-15" font-size="18">2</tspan></text><text x="532" y="722" font-size="27.6" text-anchor="middle">SD of white noise</text><text transform="translate(24.7,340.6) rotate(-90)" x="0" y="0" font-size="28" text-anchor="middle">Slope</text><rect x="103.5" y="30.5" width="205" height="63.3" rx="3" fill="#fff" fill-opacity="0.8" stroke="#ccc" stroke-width="1"/><path d="M128 43.1l9.6 9.6M128 52.7l9.6 -9.6" stroke="#000" stroke-width="2.4"/><circle cx="132.5" cy="75.8" r="4.1" fill="#000"/><text x="170.5" y="53.2" font-size="20.6">Significant</text><text x="170.5" y="81.7" font-size="20.6">Nonsignificant</text><rect x="501" y="411.8" width="459.5" height="234.5" rx="3" fill="#fff" fill-opacity="0.8" stroke="#ccc" stroke-width="1"/><circle cx="529.8" cy="428.5" r="4.1" fill="#000080"/><text x="568" y="433.5" font-size="20.8">Runoff value of calendar month</text><circle cx="529.8" cy="457.2" r="4.1" fill="#87ceeb"/><text x="568" y="462.2" font-size="20.8">Annual 1, 3, 7-days maximum runoff</text><circle cx="529.8" cy="486.0" r="4.1" fill="#0000cd"/><text x="568" y="491.0" font-size="20.8">Annual runoff value</text><circle cx="529.8" cy="514.8" r="4.1" fill="#008000"/><text x="568" y="519.8" font-size="20.8">Temperature of calendar month</text><circle cx="529.8" cy="543.5" r="4.1" fill="#32cd32"/><text x="568" y="548.5" font-size="20.8">Relative humidity of calendar month</text><circle cx="529.8" cy="572.2" r="4.1" fill="#90ee90"/><text x="568" y="577.2" font-size="20.8">Precipitation of calendar month</text><circle cx="529.8" cy="601.0" r="4.1" fill="#ffff00"/><text x="568" y="606.0" font-size="20.8">Annual precipitation value</text><circle cx="529.8" cy="629.8" r="4.1" fill="#ffd200"/><text x="568" y="634.8" font-size="20.8">Annual 1, 3, 7-days maximum precipitation</text></svg></body></html>
